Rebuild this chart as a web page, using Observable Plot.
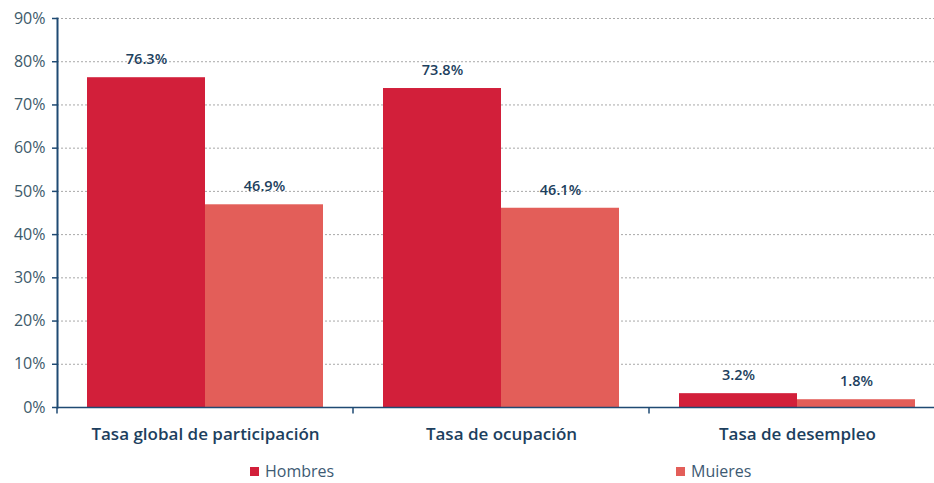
<!DOCTYPE html>
<html>
<head>
<meta charset="utf-8">
<script src="https://cdn.jsdelivr.net/npm/d3@7"></script>
<script src="https://cdn.jsdelivr.net/npm/@observablehq/plot@0.6"></script>
<style>
  body { margin: 0; background: #fff; font-family: "Open Sans", sans-serif; }
  #chart { position: relative; width: 934px; }
  .legend { position: relative; height: 26px; }
  .item { position: absolute; top: 8px; display: flex; align-items: center; font-size: 16px; line-height: 17px; color: #3d5a73; }
  .sw { width: 9px; height: 9px; margin-right: 6px; }
</style>
</head>
<body>
<div id="chart"></div>
<script>
const categories = ["Tasa global de participación", "Tasa de ocupación", "Tasa de desempleo"];
const seriesNames = ["Hombres", "Mujeres"];
const hombres = [76.3, 73.8, 3.2];
const mujeres = [46.9, 46.1, 1.8];
const yTicks = [0, 10, 20, 30, 40, 50, 60, 70, 80, 90];
const legendLabels = ["Hombres", "Muieres"];

const colors = ["#d21f3a", "#e35e59"];
const navy = "#1d3f5e";
const axisLine = "#1f4a73";

const rows = [];
categories.forEach((c, i) => {
  rows.push({cat: c, serie: seriesNames[0], value: hombres[i]});
  rows.push({cat: c, serie: seriesNames[1], value: mujeres[i]});
});

function boundaryTick(index, scales, values, dims, context, next) {
  const g = next(index, scales, values, dims, context);
  const y0 = scales.y(0);
  const line = d3.create("svg:line")
    .attr("x1", dims.marginLeft).attr("x2", dims.marginLeft)
    .attr("y1", y0).attr("y2", y0 + 6)
    .attr("stroke", axisLine).attr("stroke-width", 1.5);
  g.appendChild(line.node());
  return g;
}

const plot = Plot.plot({
  width: 934,
  height: 455,
  marginTop: 18,
  marginBottom: 48,
  marginLeft: 57,
  marginRight: -11,
  style: {fontFamily: "Open Sans, sans-serif", background: "#fff"},
  fx: {domain: categories, padding: 0, label: null},
  x: {domain: seriesNames, paddingInner: 0, paddingOuter: 0.25, axis: null},
  y: {domain: [0, 90], axis: null},
  color: {domain: seriesNames, range: colors},
  marks: [
    Plot.gridY(yTicks, {stroke: "#a8a8a8", strokeOpacity: 1, strokeDasharray: "2,2", strokeWidth: 1}),
    Plot.barY(rows, {fx: "cat", x: "serie", y: "value", fill: "serie"}),
    Plot.text(rows, {fx: "cat", x: "serie", y: "value", text: d => d.value.toFixed(1) + "%",
      dy: -18, fill: navy, fontSize: 14.5, fontWeight: 600}),
    Plot.frame({anchor: "left", facetAnchor: "left", stroke: axisLine, strokeWidth: 2}),
    Plot.ruleY([0], {stroke: axisLine, strokeWidth: 1.5, render: boundaryTick}),
    Plot.axisY(yTicks, {anchor: "left", tickSize: 5, tickPadding: 7, stroke: axisLine, strokeWidth: 1.5,
      fill: "#3d5a6a", fontSize: 16, tickFormat: d => d + "%", label: null}),
    Plot.axisFx({anchor: "bottom", tickSize: 0, tickPadding: 20, fill: navy, fontSize: 17, fontWeight: 600, label: null})
  ]
});

const chart = document.getElementById("chart");
chart.appendChild(plot);

const legend = document.createElement("div");
legend.className = "legend";
const lefts = [250, 676];
legendLabels.forEach((lab, i) => {
  const item = document.createElement("div");
  item.className = "item";
  item.style.left = lefts[i] + "px";
  const sw = document.createElement("span");
  sw.className = "sw";
  sw.style.background = colors[i];
  const t = document.createElement("span");
  t.textContent = lab;
  item.appendChild(sw);
  item.appendChild(t);
  legend.appendChild(item);
});
chart.appendChild(legend);
</script>
</body>
</html>
